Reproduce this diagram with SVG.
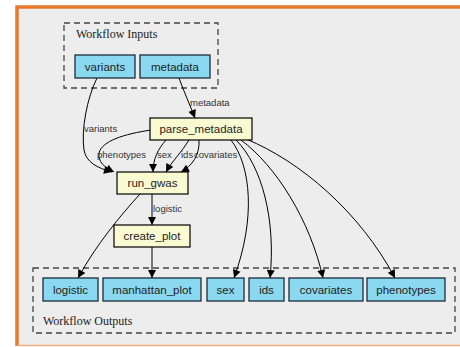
<svg xmlns="http://www.w3.org/2000/svg" width="460" height="347" viewBox="0 0 460 347">
  <defs>
    <marker id="arrow" viewBox="0 0 10 10" refX="10" refY="5" markerWidth="9" markerHeight="8" markerUnits="userSpaceOnUse" orient="auto">
      <path d="M0,0 L10,5 L0,10 Z" fill="#000"/>
    </marker>
    <style>
      .cluster { fill: none; stroke: #444; stroke-width: 1.3; stroke-dasharray: 6 4; }
      .cluster-label { font-family: "Liberation Serif", serif; font-size: 12px; fill: #222; }
      .io rect { fill: #8ad9f1; stroke: #1b2b3a; stroke-width: 1.3; }
      .step rect { fill: #fafad2; stroke: #000; stroke-width: 1.2; }
      .node text { font-family: "Liberation Sans", Arial, sans-serif; font-size: 11.5px; fill: #222; text-anchor: middle; }
      .edges path { fill: none; stroke: #000; stroke-width: 1; marker-end: url(#arrow); }
      .edge-label { font-family: "Liberation Sans", Arial, sans-serif; font-size: 9.5px; fill: #333; }
    </style>
  </defs>

  <!-- page and frame -->
  <rect x="0" y="0" width="460" height="347" fill="#fff"/>
  <rect x="17" y="7" width="445" height="338" fill="#ededed"/>
  <path d="M17,346 L17,7 L462,7" fill="none" stroke="#e8792b" stroke-width="3.5"/>
  <line x1="17" y1="345.5" x2="460" y2="345.5" stroke="#f2ad80" stroke-width="1.5"/>

  <!-- clusters -->
  <g id="cluster-inputs">
    <rect class="cluster" x="64" y="23" width="154" height="65"/>
    <text class="cluster-label" x="76" y="38">Workflow Inputs</text>
  </g>
  <g id="cluster-outputs">
    <rect class="cluster" x="33" y="268" width="422" height="65"/>
    <text class="cluster-label" x="43" y="325">Workflow Outputs</text>
  </g>

  <!-- connectors -->
  <g id="edges" class="edges">
    <path d="M97,78 C87,98 81,130 84,150 C86,162 97,168 112,172"/>
    <path d="M179,78 C184,92 190,105 195,118"/>
    <path d="M151,130 C124,134 102,141 99,153 C98,162 104,167 114,172"/>
    <path d="M166,140 C158,149 153,159 153,172"/>
    <path d="M189,140 C182,152 172,161 166,172"/>
    <path d="M199,140 C200,155 192,166 181,172"/>
    <path d="M152,194 L152,225"/>
    <path d="M140,194 C120,216 96,245 78,278"/>
    <path d="M152,247 L152,278"/>
    <path d="M231,140 C251,166 256,218 234,278"/>
    <path d="M236,140 C262,166 276,220 270,278"/>
    <path d="M241,140 C276,166 310,220 323,278"/>
    <path d="M246,139 C300,161 360,212 395,278"/>
  </g>
  <g id="edge-labels">
    <text class="edge-label" x="84" y="132">variants</text>
    <text class="edge-label" x="190" y="106">metadata</text>
    <text class="edge-label" x="97" y="158">phenotypes</text>
    <text class="edge-label" x="157" y="158">sex</text>
    <text class="edge-label" x="181" y="158">ids</text>
    <text class="edge-label" x="194" y="158">covariates</text>
    <text class="edge-label" x="153" y="212">logistic</text>
  </g>

  <!-- inputs -->
  <g id="variants" class="node io">
    <rect x="75" y="55" width="60" height="23"/>
    <text x="105" y="70.5">variants</text>
  </g>
  <g id="metadata" class="node io">
    <rect x="140" y="55" width="70" height="23"/>
    <text x="175" y="70.5">metadata</text>
  </g>

  <!-- steps -->
  <g id="parse_metadata" class="node step">
    <rect x="150" y="118" width="102" height="22"/>
    <text x="201" y="133">parse_metadata</text>
  </g>
  <g id="run_gwas" class="node step">
    <rect x="117" y="172" width="71" height="22"/>
    <text x="152.5" y="187">run_gwas</text>
  </g>
  <g id="create_plot" class="node step">
    <rect x="114" y="225" width="76" height="22"/>
    <text x="152" y="240">create_plot</text>
  </g>

  <!-- outputs -->
  <g id="out-logistic" class="node io">
    <rect x="43" y="278" width="55" height="23"/>
    <text x="70.5" y="293.5">logistic</text>
  </g>
  <g id="out-manhattan_plot" class="node io">
    <rect x="103" y="278" width="98" height="23"/>
    <text x="152" y="293.5">manhattan_plot</text>
  </g>
  <g id="out-sex" class="node io">
    <rect x="207" y="278" width="37" height="23"/>
    <text x="225.5" y="293.5">sex</text>
  </g>
  <g id="out-ids" class="node io">
    <rect x="249" y="278" width="35" height="23"/>
    <text x="266.5" y="293.5">ids</text>
  </g>
  <g id="out-covariates" class="node io">
    <rect x="289" y="278" width="74" height="23"/>
    <text x="326" y="293.5">covariates</text>
  </g>
  <g id="out-phenotypes" class="node io">
    <rect x="367" y="278" width="78" height="23"/>
    <text x="406" y="293.5">phenotypes</text>
  </g>
</svg>
